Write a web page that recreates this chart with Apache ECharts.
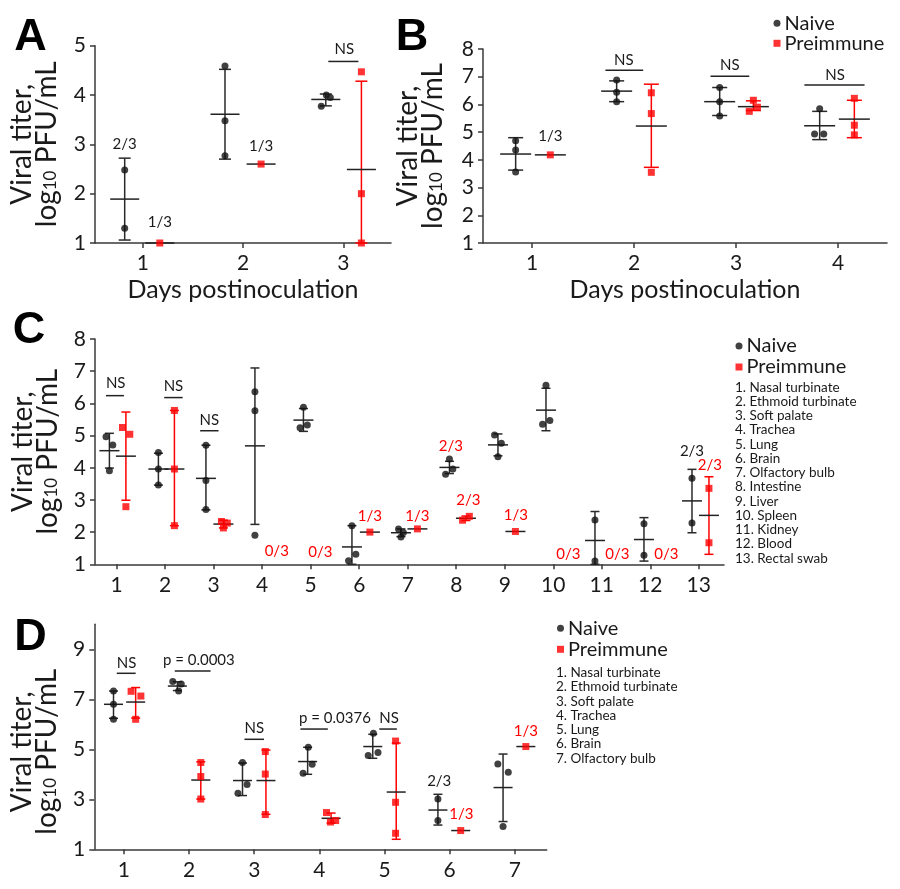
<!DOCTYPE html>
<html><head><meta charset="utf-8">
<script src="https://cdn.jsdelivr.net/npm/echarts@6/dist/echarts.min.js"></script>
<style>html,body{margin:0;padding:0;background:#fff}#c{width:900px;height:889px}</style>
</head><body><div id="c"></div>
<script>
// ================= DATA =================
// Panel A (days 1-3)
const ticksA = [1, 2, 3];
const naiveA = [[0.82,2.48],[0.82,1.30],[1.82,4.59],[1.82,3.48],[1.82,2.77],[2.78,3.77],[2.83,4.00],[2.87,3.95]];
const preA = [[1.17,1.00],[2.18,2.60],[3.18,4.47],[3.18,2.00],[3.18,1.00]];
// [x, mean, low, high]
const statsNaiveA = [[0.82,1.89,1.06,2.72],[1.82,3.61,2.70,4.52],[2.825,3.91,3.78,4.02]];
const statsPreA = [[1.17,1.00,null,null],[2.18,2.60,null,null],[3.18,2.49,1.00,4.28]];
const countsNaiveA = [[0.82,3.00,'2/3'],[1.17,1.43,'1/3'],[2.18,2.97,'1/3']];
const countsPreA = [];
const sigTextA = [[3.01,4.93,'NS']];
const sigLineA = [[2.85,3.15,4.68]];

// Panel B (days 1-4)
const ticksB = [1, 2, 3, 4];
const naiveB = [[0.84,4.69],[0.84,4.36],[0.84,3.56],[1.83,6.88],[1.83,6.44],[1.83,6.10],[2.84,6.61],[2.84,6.10],[2.84,5.58],[3.82,5.84],[3.77,4.93],[3.86,4.93]];
const preB = [[1.18,4.18],[2.17,6.42],[2.17,5.67],[2.17,3.55],[3.17,6.15],[3.13,5.75],[3.21,5.90],[4.16,6.22],[4.16,5.25],[4.16,4.90]];
const statsNaiveB = [[0.84,4.21,3.63,4.80],[1.83,6.48,6.10,6.85],[2.84,6.10,5.60,6.61],[3.82,5.23,4.73,5.75]];
const statsPreB = [[1.18,4.18,null,null],[2.17,5.22,3.73,6.73],[3.17,5.92,5.78,6.13],[4.16,5.47,4.80,6.15]];
const countsNaiveB = [[1.18,4.84,'1/3']];
const countsPreB = [];
const sigTextB = [[1.90,7.58,'NS'],[2.94,7.40,'NS'],[3.97,7.06,'NS']];
const sigLineB = [[1.72,2.09,7.23],[2.75,3.13,7.02],[3.67,4.26,6.70]];

// Panel C (organs 1-13)
const ticksC = [1,2,3,4,5,6,7,8,9,10,11,12,13];
const naiveC = [[0.78,4.96],[0.92,4.71],[0.85,3.91],
  [1.86,4.47],[1.86,3.96],[1.86,3.46],
  [2.84,4.70],[2.84,3.60],[2.84,2.70],
  [3.85,6.36],[3.85,5.77],[3.85,1.90],
  [4.85,5.88],[4.78,5.24],[4.93,5.33],
  [5.85,2.20],[5.93,1.31],[5.78,1.11],
  [6.81,2.10],[6.91,1.99],[6.86,1.85],
  [7.86,4.27],[7.93,3.96],[7.78,3.80],
  [8.79,5.02],[8.93,4.76],[8.86,4.34],
  [9.85,6.56],[9.93,5.47],[9.78,5.35],
  [10.86,2.38],[10.86,1.10],
  [11.87,2.26],[11.87,1.28],
  [12.86,3.67],[12.86,2.28]];
const preC = [[1.12,5.25],[1.27,5.04],[1.19,2.79],
  [2.19,5.78],[2.19,3.96],[2.19,2.20],
  [3.16,2.33],[3.28,2.28],[3.20,2.13],
  [6.22,2.00],[7.20,2.10],
  [8.13,2.37],[8.27,2.49],
  [9.22,2.02],
  [13.21,3.36],[13.21,1.67]];
const statsNaiveC = [[0.85,4.53,3.99,5.07],[1.86,3.96,3.46,4.45],[2.84,3.67,2.69,4.70],[3.85,4.68,2.24,7.10],
  [4.85,5.48,5.13,5.84],[5.85,1.54,1.00,2.20],[6.86,1.98,1.86,2.10],[7.86,4.01,3.82,4.20],[8.86,4.71,4.37,5.05],
  [9.85,5.79,5.15,6.47],[10.86,1.74,1.00,2.64],[11.87,1.77,1.10,2.45],[12.86,2.97,1.98,3.95]];
const statsPreC = [[1.19,4.36,2.99,5.73],[2.19,3.96,2.20,5.78],[3.20,2.25,2.13,2.37],[6.22,2.00,null,null],
  [7.20,2.10,null,null],[8.20,2.43,2.36,2.50],[9.22,2.02,null,null],[13.21,2.52,1.31,3.72]];
const countsNaiveC = [[12.86,4.53,'2/3']];
const countsPreC = [[4.30,1.42,'0/3'],[5.20,1.37,'0/3'],[6.22,2.50,'1/3'],[7.20,2.50,'1/3'],[7.89,4.67,'2/3'],
  [8.25,3.00,'2/3'],[9.23,2.53,'1/3'],[10.31,1.32,'0/3'],[11.32,1.32,'0/3'],[12.33,1.32,'0/3'],[13.23,4.08,'2/3']];
const sigTextC = [[0.98,6.62,'NS'],[2.17,6.52,'NS'],[2.91,5.48,'NS']];
const sigLineC = [[0.78,1.15,6.24],[1.98,2.36,6.18],[2.72,3.10,5.15]];
const organsC = ['1. Nasal turbinate','2. Ethmoid turbinate','3. Soft palate','4. Trachea','5. Lung','6. Brain',
  '7. Olfactory bulb','8. Intestine','9. Liver','10. Spleen','11. Kidney','12. Blood','13. Rectal swab'];

// Panel D (organs 1-7)
const ticksD = [1,2,3,4,5,6,7];
const yTicksD = [1,3,5,7,9];
const naiveD = [[0.84,7.33],[0.84,6.80],[0.84,6.20],
  [1.75,7.71],[1.88,7.61],[1.84,7.33],
  [2.75,3.24],[2.89,3.59],[2.82,4.47],
  [3.83,5.08],[3.89,4.40],[3.75,4.04],
  [4.83,5.64],[4.75,4.75],[4.90,4.87],
  [5.82,3.01],[5.82,2.15],
  [6.74,4.41],[6.90,4.08],[6.82,1.91]];
const preD = [[1.11,7.32],[1.26,7.13],[1.18,6.20],
  [2.18,4.47],[2.18,3.91],[2.18,3.01],
  [3.17,4.91],[3.17,4.01],[3.17,2.39],
  [4.11,2.47],[4.17,2.09],[4.25,2.15],
  [5.17,5.33],[5.17,2.88],[5.17,1.64],
  [6.17,1.75],
  [7.17,5.11]];
const statsNaiveD = [[0.84,6.80,6.24,7.33],[1.82,7.53,7.35,7.70],[2.82,3.75,3.15,4.45],[3.82,4.51,4.00,5.08],
  [4.82,5.11,4.64,5.60],[5.82,2.57,1.97,3.20],[6.82,3.47,2.11,4.81]];
const statsPreD = [[1.18,6.89,6.25,7.47],[2.18,3.77,3.01,4.50],[3.18,3.75,2.40,4.97],[4.18,2.24,2.05,2.45],
  [5.18,3.29,1.40,5.25],[6.17,1.75,null,null],[7.17,5.11,null,null]];
const countsNaiveD = [[5.84,3.71,'2/3']];
const countsPreD = [[6.18,2.40,'1/3'],[7.17,5.73,'1/3']];
const sigTextD = [[1.04,8.44,'NS'],[2.15,8.57,'p = 0.0003'],[3.00,5.84,'NS'],[4.24,6.24,'p = 0.0376'],[5.07,6.24,'NS']];
const sigLineD = [[0.89,1.18,8.04],[1.78,2.33,8.13],[2.85,3.15,5.40],[3.71,4.13,5.81],[4.92,5.19,5.81]];
const organsD = organsC.slice(0, 7);

// ================= STYLE =================
const FONT = 'Lato';
const TXT = '#1a1a1a';
const AX = '#3a3a3a';
const RED = '#ff0000';
const BLK = '#111111';

function ln(x1, y1, x2, y2, color) {
  return {type: 'line', shape: {x1, y1, x2, y2}, style: {stroke: color, lineWidth: 1.5}};
}
function statsSeries(idx, arr, color, meanHalf, capHalf) {
  return {type: 'custom', xAxisIndex: idx, yAxisIndex: idx, z: 2, silent: true,
    data: arr.map(d => [d[0], d[1]]), encode: {x: 0, y: 1},
    renderItem: (params, api) => {
      const d = arr[params.dataIndex];
      const c = api.coord([d[0], d[1]]);
      const kids = [];
      if (d[2] != null && d[3] != null) {
        const lo = api.coord([d[0], d[2]]), hi = api.coord([d[0], d[3]]);
        kids.push(ln(c[0], lo[1], c[0], hi[1], color));
        kids.push(ln(c[0] - capHalf, lo[1], c[0] + capHalf, lo[1], color));
        kids.push(ln(c[0] - capHalf, hi[1], c[0] + capHalf, hi[1], color));
      }
      kids.push(ln(c[0] - meanHalf, c[1], c[0] + meanHalf, c[1], '#222'));
      return {type: 'group', children: kids};
    }};
}
function sigLineSeries(idx, arr) {
  return {type: 'custom', xAxisIndex: idx, yAxisIndex: idx, z: 2, silent: true,
    data: arr.map(d => [d[0], d[2]]), encode: {x: 0, y: 1},
    renderItem: (params, api) => {
      const d = arr[params.dataIndex];
      const a = api.coord([d[0], d[2]]), b = api.coord([d[1], d[2]]);
      return ln(a[0], a[1], b[0], b[1], '#222');
    }};
}
function textSeries(idx, arr, color, size) {
  return {type: 'custom', xAxisIndex: idx, yAxisIndex: idx, z: 5, silent: true,
    data: arr.map(d => [d[0], d[1]]), encode: {x: 0, y: 1},
    renderItem: (params, api) => {
      const d = arr[params.dataIndex];
      const p = api.coord([d[0], d[1]]);
      return {type: 'text', x: p[0], y: p[1], style: {text: d[2], fill: color, fontSize: size, fontFamily: FONT,
        align: 'center', verticalAlign: 'middle', textAlign: 'center', textVerticalAlign: 'middle'}};
    }};
}
function scatter(idx, arr, isNaive) {
  return {type: 'scatter', name: isNaive ? 'Naive' : 'Preimmune', xAxisIndex: idx, yAxisIndex: idx, z: 4,
    symbol: isNaive ? 'circle' : 'rect', symbolSize: 7, silent: true,
    itemStyle: {color: isNaive ? BLK : RED}, data: arr};
}
function panel(idx, naive, pre, sN, sP, cN, cP, sT, sL, meanHalf, capHalf) {
  return [
    statsSeries(idx, sN, '#2a2a2a', meanHalf, capHalf),
    statsSeries(idx, sP, RED, meanHalf, capHalf),
    sigLineSeries(idx, sL),
    scatter(idx, naive, true),
    scatter(idx, pre, false),
    textSeries(idx, cN, TXT, 15),
    textSeries(idx, cP, RED, 15),
    textSeries(idx, sT, TXT, 15)
  ];
}
const yName = '{a|Viral titer,}\n{a|log}{s|10}{a| PFU/mL}';
function yAxis(idx, min, max, ticks, gap, pad) {
  return {gridIndex: idx, type: 'value', min, max,
    axisLine: {show: true, lineStyle: {color: AX, width: 1.5}},
    axisTick: {show: true, length: 5, customValues: ticks, lineStyle: {color: AX, width: 1.5}},
    axisLabel: {customValues: ticks, fontSize: 21, fontFamily: FONT, color: TXT, margin: 9},
    splitLine: {show: false},
    name: yName, nameLocation: 'middle', nameRotate: 90, nameGap: gap,
    nameTextStyle: {padding: pad || 0, rich: {
      a: {fontSize: 28, fontFamily: FONT, color: TXT, lineHeight: 25},
      s: {fontSize: 17, fontFamily: FONT, color: TXT, lineHeight: 6, verticalAlign: 'bottom'}
    }}};
}
function xAxis(idx, min, max, ticks, name) {
  const ax = {gridIndex: idx, type: 'value', min, max,
    axisLine: {show: true, onZero: false, lineStyle: {color: AX, width: 1.5}},
    axisTick: {show: true, length: 5, customValues: ticks, lineStyle: {color: AX, width: 1.5}},
    axisLabel: {customValues: ticks, fontSize: 21, fontFamily: FONT, color: TXT, margin: 10},
    splitLine: {show: false}};
  if (name) {
    ax.name = name; ax.nameLocation = 'middle'; ax.nameGap = 34;
    ax.nameTextStyle = {fontSize: 25, fontFamily: FONT, color: TXT, lineHeight: 25};
  }
  return ax;
}
function legend(left, top, gap) {
  return {left, top, orient: 'vertical', padding: 0, itemGap: gap, itemWidth: 7, itemHeight: 7,
    selectedMode: false,
    textStyle: {fontSize: 20, fontFamily: FONT, color: TXT, lineHeight: 20, padding: [0, 0, 0, -1]},
    data: [{name: 'Naive', icon: 'circle'}, {name: 'Preimmune', icon: 'rect'}]};
}
const graphics = [];
[['A', 30.5, 37.5], ['B', 412, 37.5], ['C', 29, 331], ['D', 30.5, 638]].forEach(([t, x, y]) => {
  graphics.push({type: 'text', x, y, silent: true, style: {text: t, fill: '#000',
    font: 'bold 45px "Liberation Sans"', align: 'center', verticalAlign: 'middle',
    textAlign: 'center', textVerticalAlign: 'middle'}});
});
organsC.forEach((t, i) => graphics.push({type: 'text', x: 735, y: 387.3 + i * 14.25, silent: true,
  style: {text: t, fill: TXT, fontSize: 13.5, fontFamily: FONT, align: 'left', verticalAlign: 'middle',
    textAlign: 'left', textVerticalAlign: 'middle'}}));
organsD.forEach((t, i) => graphics.push({type: 'text', x: 556, y: 672.7 + i * 14.27, silent: true,
  style: {text: t, fill: TXT, fontSize: 13.5, fontFamily: FONT, align: 'left', verticalAlign: 'middle',
    textAlign: 'left', textVerticalAlign: 'middle'}}));

const option = {
  animation: false,
  backgroundColor: '#ffffff',
  textStyle: {fontFamily: FONT},
  grid: [
    {left: 95, top: 45.67, width: 296, height: 197.33, outerBoundsMode: 'none'},
    {left: 483, top: 49, width: 404, height: 194, outerBoundsMode: 'none'},
    {left: 95, top: 339, width: 629, height: 225.3, outerBoundsMode: 'none'},
    {left: 94.3, top: 624.3, width: 452.4, height: 225, outerBoundsMode: 'none'}
  ],
  xAxis: [
    xAxis(0, 0.524, 3.475, ticksA, 'Days postinoculation'),
    xAxis(1, 0.52, 4.48, ticksB, 'Days postinoculation'),
    xAxis(2, 0.553, 13.52, ticksC),
    xAxis(3, 0.545, 7.49, ticksD)
  ],
  yAxis: [
    yAxis(0, 1, 5, [1,2,3,4,5], 36),
    yAxis(1, 1, 8, [1,2,3,4,5,6,7,8], 38),
    yAxis(2, 1, 8, [1,2,3,4,5,6,7,8], 35),
    yAxis(3, 1, 10, yTicksD, 35, [0, 30, 0, 0])
  ],
  legend: [legend(773.5, 13.3, 0), legend(735.5, 336, 1), legend(557, 618.3, 1)],
  graphic: graphics,
  series: [].concat(
    panel(0, naiveA, preA, statsNaiveA, statsPreA, countsNaiveA, countsPreA, sigTextA, sigLineA, 14.5, 6),
    panel(1, naiveB, preB, statsNaiveB, statsPreB, countsNaiveB, countsPreB, sigTextB, sigLineB, 15.5, 7.5),
    panel(2, naiveC, preC, statsNaiveC, statsPreC, countsNaiveC, countsPreC, sigTextC, sigLineC, 10, 4.5),
    panel(3, naiveD, preD, statsNaiveD, statsPreD, countsNaiveD, countsPreD, sigTextD, sigLineD, 9.5, 4.5)
  )
};
const chart = echarts.init(document.getElementById('c'), null, {renderer: 'canvas', width: 900, height: 889});
chart.setOption(option);
</script>
</body></html>
